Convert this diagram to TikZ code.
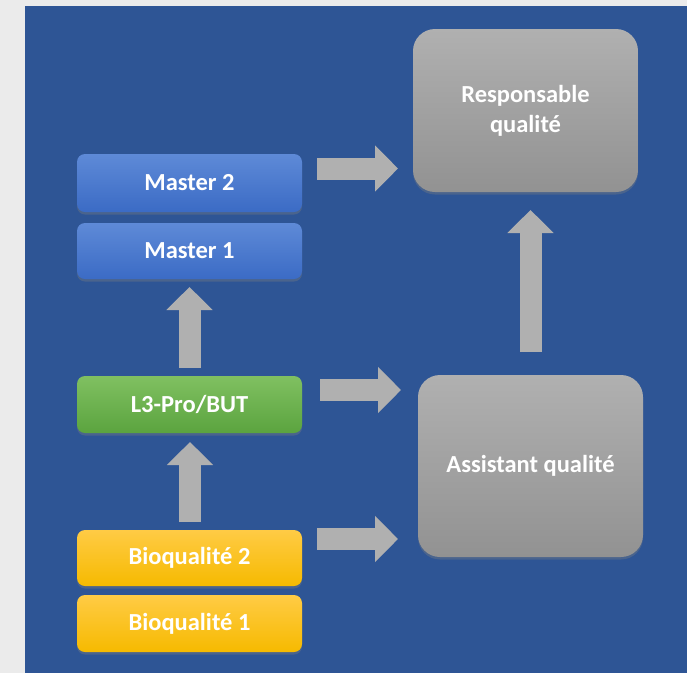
\documentclass[tikz,border=0pt]{standalone}
\usepackage{fontspec}
\setmainfont{Carlito}
\usetikzlibrary{arrows.meta,shadows,calc}
\definecolor{pagegray}{HTML}{EBEBEB}
\definecolor{panelblue}{HTML}{2E5595}
\definecolor{bluetop}{HTML}{5E8AD7}
\definecolor{bluebot}{HTML}{3B6BC5}
\definecolor{greentop}{HTML}{80C061}
\definecolor{greenbot}{HTML}{5BA43F}
\definecolor{yellowtop}{HTML}{FFCB45}
\definecolor{yellowbot}{HTML}{F6BA00}
\definecolor{graytop}{HTML}{B0B0B0}
\definecolor{graybot}{HTML}{929292}
\definecolor{arrowgray}{HTML}{B0B0B0}
\tikzset{
  x=1pt, y=-1pt,
  box/.style={rounded corners=8pt, minimum width=225pt, text=white,
    font=\bfseries\fontsize{24.5}{30}\selectfont, align=center,
    drop shadow={opacity=0.35, shadow xshift=0pt, shadow yshift=-2.5pt}},
  bluebox/.style={box, top color=bluetop, bottom color=bluebot},
  greenbox/.style={box, top color=greentop, bottom color=greenbot},
  yellowbox/.style={box, top color=yellowtop, bottom color=yellowbot},
  graybox/.style={box, rounded corners=22pt, top color=graytop, bottom color=graybot},
  blockarrow/.style={draw=arrowgray, line width=22pt,
    -{Triangle[width=45pt, length=23pt]}},
}
\begin{document}
\begin{tikzpicture}
\fill[pagegray] (0,0) rectangle (687,673);
\fill[panelblue] (25,6) rectangle (687,673);

\node[bluebox, minimum height=58pt] (m2) at (189.5,183) {Master 2};
\node[bluebox, minimum height=56pt] (m1) at (189.5,251) {Master 1};
\node[greenbox, minimum height=57pt] (l3) at (189.5,404.5) {L3-Pro/BUT};
\node[yellowbox, minimum height=56pt] (b2) at (189.5,558) {Bioqualité 2};
\node[yellowbox, minimum height=57pt] (b1) at (189.5,623.5) {Bioqualité 1};
\node[graybox, minimum height=163pt] (resp) at (525.5,110.5) {Responsable\\qualité};
\node[graybox, minimum height=182pt] (assist) at (530.5,466) {Assistant qualité};

% connector end points
\coordinate (a1s) at (317,168.5);  \coordinate (a1e) at (398,168.5);
\coordinate (a2s) at (530.5,352);  \coordinate (a2e) at (530.5,210);
\coordinate (a3s) at (320,390);    \coordinate (a3e) at (401,390);
\coordinate (a4s) at (317,539);    \coordinate (a4e) at (398,539);
\coordinate (a5s) at (190,522);    \coordinate (a5e) at (190,442);
\coordinate (a6s) at (189.5,368);  \coordinate (a6e) at (189.5,287);

\draw[blockarrow] (a1s) -- (a1e);
\draw[blockarrow] (a2s) -- (a2e);
\draw[blockarrow] (a3s) -- (a3e);
\draw[blockarrow] (a4s) -- (a4e);
\draw[blockarrow] (a5s) -- (a5e);
\draw[blockarrow] (a6s) -- (a6e);
\end{tikzpicture}
\end{document}
